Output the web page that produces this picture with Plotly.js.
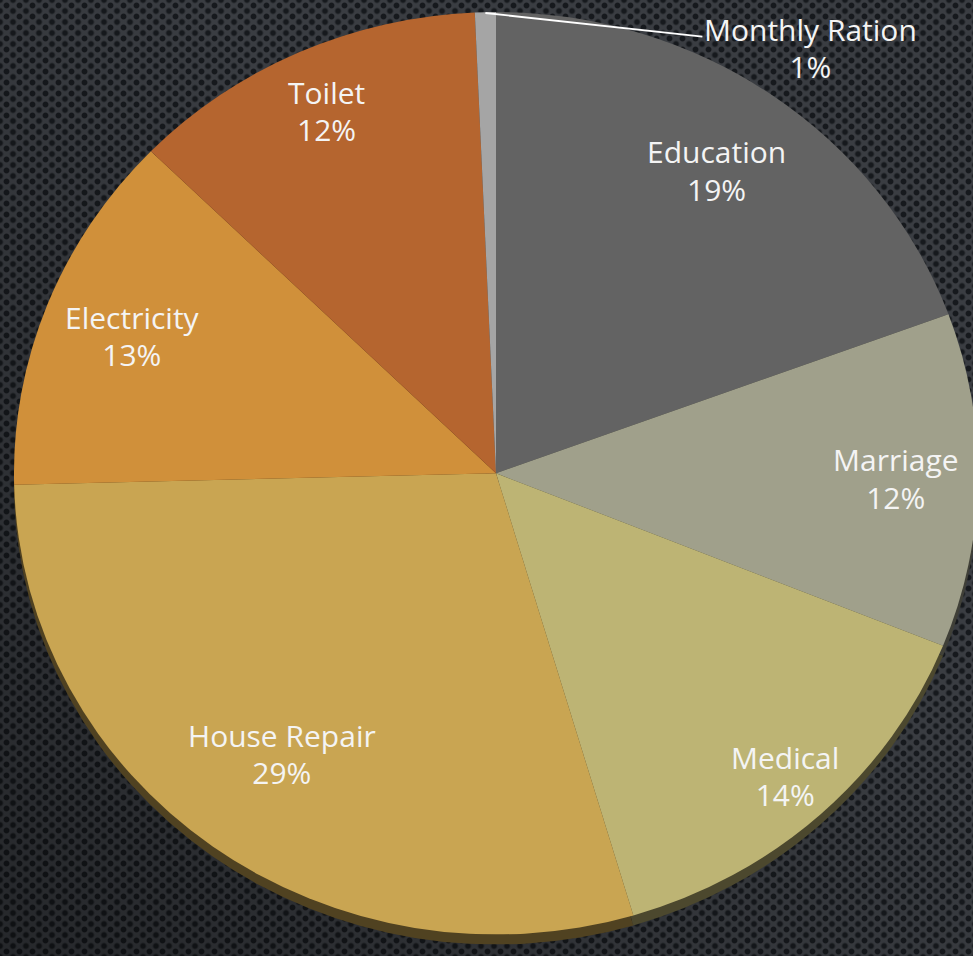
<!DOCTYPE html>
<html>
<head>
<meta charset="utf-8">
<script src="https://cdn.plot.ly/plotly-3.0.1.min.js"></script>
<style>
  html, body { margin: 0; padding: 0; }
  body {
    width: 973px; height: 956px; overflow: hidden; position: relative;
    background-color: #3a3d42;
    background-image:
      linear-gradient(45deg, rgba(0,0,0,0.35), rgba(0,0,0,0) 60%),
      radial-gradient(circle, #16191d 0 2.4px, rgba(22,25,29,0) 3.4px),
      radial-gradient(circle, #16191d 0 2.4px, rgba(22,25,29,0) 3.4px);
    background-size: 100% 100%, 13px 11px, 13px 11px;
    background-position: 0 0, 0 0, 6.5px 5.5px;
  }
  .pie { position: absolute; left: 14px; width: 964px; height: 964px;
         transform: scaleY(0.957); transform-origin: 0 0; }
  #shadow { top: 22px; }
  #chart { top: 12px; }
</style>
</head>
<body>
<div id="shadow" class="pie"></div>
<div id="chart" class="pie"></div>
<script>
// ---- data ----
const labels = ['Education', 'Marriage', 'Medical', 'House Repair', 'Electricity', 'Toilet', 'Monthly Ration'];
const values = [19.4, 11.7, 14.3, 29.2, 12.7, 12.0, 0.7];

// ---- styles ----
const colors = ['#636363', '#a0a08b', '#bdb474', '#c9a552', '#d0903a', '#b5652f', '#a5a5a5'];
const labelRadius = [0.80, 0.83, 0.89, 0.755, 0.81, 0.86];
const FONT = '"Open Sans", "DejaVu Sans", sans-serif';
const TXT = '#f4f4f4';

function darken(hex, k) {
  const n = parseInt(hex.slice(1), 16);
  const r = Math.round(((n >> 16) & 255) * k), g = Math.round(((n >> 8) & 255) * k), b = Math.round((n & 255) * k);
  return 'rgb(' + r + ',' + g + ',' + b + ')';
}

const total = values.reduce((a, b) => a + b, 0);
const pct = values.map(v => Math.round(v / total * 100) + '%');

const annotations = [];
let cum = 0;
values.forEach((v, i) => {
  const theta = (cum + v / 2) / total * 2 * Math.PI;
  cum += v;
  if (i < labelRadius.length) {
    const f = labelRadius[i];
    annotations.push({
      xref: 'paper', yref: 'paper', xanchor: 'center', yanchor: 'middle',
      x: 0.5 + 0.5 * f * Math.sin(theta), y: 0.5 + 0.5 * f * Math.cos(theta),
      text: labels[i] + '<br>' + pct[i], showarrow: false, align: 'center',
      font: { family: FONT, size: 30, color: TXT }
    });
  } else {
    annotations.push({
      xref: 'paper', yref: 'paper', xanchor: 'center', yanchor: 'middle',
      x: 0.5 + 0.5 * Math.sin(theta), y: 0.5 + 0.5 * Math.cos(theta),
      text: labels[i] + '<br>' + pct[i], showarrow: true, arrowhead: 0,
      arrowwidth: 2, arrowcolor: '#ffffff', standoff: 0, ax: 325, ay: 38, align: 'center',
      font: { family: FONT, size: 30, color: TXT }
    });
  }
});

function pieTrace(cols) {
  return {
    type: 'pie', labels: labels, values: values, sort: false, direction: 'clockwise',
    rotation: 0, textinfo: 'none', hoverinfo: 'skip',
    marker: { colors: cols, line: { width: 0 } },
    domain: { x: [0, 1], y: [0, 1] }
  };
}

const baseLayout = {
  width: 964, height: 964, margin: { l: 0, r: 0, t: 0, b: 0, pad: 0 },
  paper_bgcolor: 'rgba(0,0,0,0)', plot_bgcolor: 'rgba(0,0,0,0)',
  showlegend: false
};

Plotly.newPlot('shadow', [pieTrace(colors.map(c => darken(c, 0.4)))], Object.assign({}, baseLayout),
  { staticPlot: true, displayModeBar: false });
Plotly.newPlot('chart', [pieTrace(colors)], Object.assign({}, baseLayout, { annotations: annotations }),
  { staticPlot: true, displayModeBar: false });
</script>
</body>
</html>
